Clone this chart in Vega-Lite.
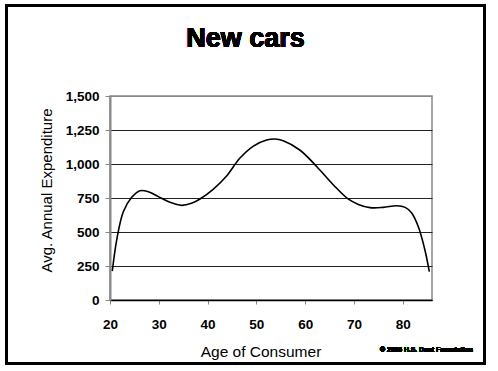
{
  "$schema": "https://vega.github.io/schema/vega-lite/v6.json",
  "autosize": {"type": "none"},
  "width": 322,
  "height": 204,
  "padding": {"left": 110, "top": 96, "right": 66, "bottom": 67},
  "background": "white",
  "config": {
    "view": {"stroke": "#888888", "strokeWidth": 1.5},
    "font": "Liberation Sans",
    "axisX": {
      "grid": false,
      "domainColor": "black",
      "domainWidth": 1.5,
      "tickColor": "#888888",
      "tickSize": 4,
      "tickWidth": 1,
      "labelFont": "Liberation Sans",
      "labelFontSize": 13.5,
      "labelFontWeight": "bold",
      "labelColor": "black",
      "labelPadding": 13,
      "labelFlush": false,
      "titleFont": "Liberation Sans",
      "titleFontSize": 15.5,
      "titleFontWeight": "normal",
      "titleColor": "black",
      "titleX": 150.5,
      "titleY": 56,
      "titleAlign": "center",
      "titleBaseline": "alphabetic"
    },
    "axisY": {
      "grid": true,
      "gridWidth": 1,
      "domainColor": "#888888",
      "domainWidth": 2,
      "tickColor": "#888888",
      "tickSize": 5,
      "tickWidth": 1,
      "labelFont": "Liberation Sans",
      "labelFontSize": 13.5,
      "labelFontWeight": "bold",
      "labelColor": "black",
      "labelPadding": 6,
      "labelFlush": false,
      "titleFont": "Liberation Sans",
      "titleFontSize": 15,
      "titleFontWeight": "normal",
      "titleColor": "black",
      "titleAngle": -90,
      "titleX": -59,
      "titleY": 94,
      "titleAlign": "center",
      "titleBaseline": "alphabetic"
    }
  },
  "data": {
    "values": [
      {"age": 20.47, "spend": 213},
      {"age": 21.37, "spend": 441},
      {"age": 22.73, "spend": 649},
      {"age": 24.45, "spend": 755},
      {"age": 26.15, "spend": 804},
      {"age": 27.85, "spend": 796},
      {"age": 29.9, "spend": 760},
      {"age": 32.3, "spend": 718},
      {"age": 34.7, "spend": 696},
      {"age": 36.7, "spend": 711},
      {"age": 38.45, "spend": 743},
      {"age": 41.2, "spend": 816},
      {"age": 43.9, "spend": 912},
      {"age": 46.6, "spend": 1042},
      {"age": 49.4, "spend": 1132},
      {"age": 52.1, "spend": 1176},
      {"age": 53.8, "spend": 1184},
      {"age": 55.5, "spend": 1171},
      {"age": 58.9, "spend": 1103},
      {"age": 62.4, "spend": 980},
      {"age": 65.8, "spend": 846},
      {"age": 68.8, "spend": 743},
      {"age": 70.9, "spend": 703},
      {"age": 73.3, "spend": 679},
      {"age": 76.0, "spend": 681},
      {"age": 78.8, "spend": 693},
      {"age": 80.5, "spend": 681},
      {"age": 81.8, "spend": 642},
      {"age": 83.2, "spend": 539},
      {"age": 84.55, "spend": 368},
      {"age": 85.45, "spend": 208}
    ]
  },
  "layer": [
    {
      "mark": {"type": "line", "color": "black", "strokeWidth": 1.6, "interpolate": "catmull-rom"},
      "encoding": {
        "x": {
          "field": "age",
          "type": "quantitative",
          "scale": {"domain": [20, 86], "nice": false, "zero": false},
          "axis": {"title": "Age of Consumer", "values": [20, 30, 40, 50, 60, 70, 80], "labelExpr": "format(datum.value, 'd')"}
        },
        "y": {
          "field": "spend",
          "type": "quantitative",
          "scale": {"domain": [0, 1500], "nice": false},
          "axis": {"title": "Avg. Annual Expenditure", "values": [0, 250, 500, 750, 1000, 1250, 1500], "labelExpr": "format(datum.value, ',')", "gridColor": {"condition": {"test": "datum.value === 1500", "value": "#888888"}, "value": "#222222"}}
        }
      }
    },
    {
      "mark": {"type": "rect", "filled": false, "stroke": "black", "strokeWidth": 2.5, "clip": false},
      "encoding": {
        "x": {"datum": -1.2, "type": "quantitative", "scale": {"domain": [20, 86], "nice": false, "zero": false},
          "axis": {"title": "Age of Consumer", "values": [20, 30, 40, 50, 60, 70, 80], "labelExpr": "format(datum.value, 'd')"}},
        "x2": {"datum": 96.76},
        "y": {"datum": 2165, "type": "quantitative", "scale": {"domain": [0, 1500], "nice": false},
          "axis": {"title": "Avg. Annual Expenditure", "values": [0, 250, 500, 750, 1000, 1250, 1500], "labelExpr": "format(datum.value, ',')", "gridColor": {"condition": {"test": "datum.value === 1500", "value": "#888888"}, "value": "#222222"}}},
        "y2": {"datum": -467}
      }
    },
    {
      "mark": {"type": "text", "text": "New cars", "font": "Liberation Sans", "fontSize": 27, "fontWeight": "bold", "color": "black", "align": "center", "baseline": "alphabetic", "clip": false},
      "encoding": {
        "x": {"datum": 47.77, "type": "quantitative", "scale": {"domain": [20, 86], "nice": false, "zero": false},
          "axis": {"title": "Age of Consumer", "values": [20, 30, 40, 50, 60, 70, 80], "labelExpr": "format(datum.value, 'd')"}},
        "y": {"datum": 1860, "type": "quantitative", "scale": {"domain": [0, 1500], "nice": false},
          "axis": {"title": "Avg. Annual Expenditure", "values": [0, 250, 500, 750, 1000, 1250, 1500], "labelExpr": "format(datum.value, ',')", "gridColor": {"condition": {"test": "datum.value === 1500", "value": "#888888"}, "value": "#222222"}}}
      }
    },
    {
      "mark": {"type": "text", "text": "© 2006 H.S. Dent Foundation", "font": "Liberation Sans", "fontSize": 6.8, "fontWeight": "bold", "color": "black", "align": "right", "baseline": "alphabetic", "clip": false},
      "encoding": {
        "x": {"datum": 94.4, "type": "quantitative", "scale": {"domain": [20, 86], "nice": false, "zero": false},
          "axis": {"title": "Age of Consumer", "values": [20, 30, 40, 50, 60, 70, 80], "labelExpr": "format(datum.value, 'd')"}},
        "y": {"datum": -382, "type": "quantitative", "scale": {"domain": [0, 1500], "nice": false},
          "axis": {"title": "Avg. Annual Expenditure", "values": [0, 250, 500, 750, 1000, 1250, 1500], "labelExpr": "format(datum.value, ',')", "gridColor": {"condition": {"test": "datum.value === 1500", "value": "#888888"}, "value": "#222222"}}}
      }
    }
  ]
}
